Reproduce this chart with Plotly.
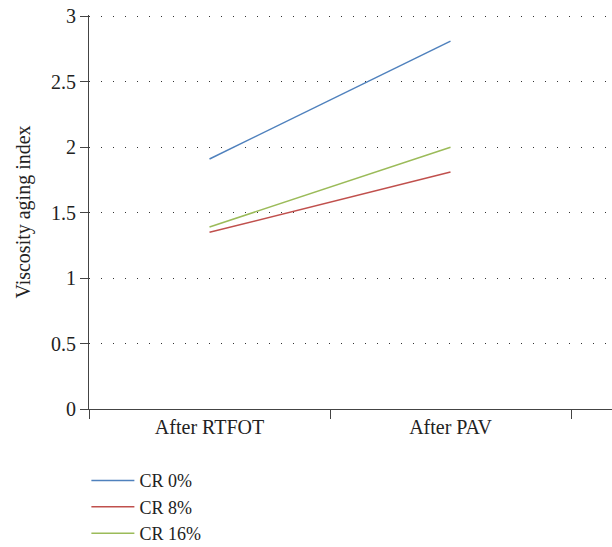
import plotly.graph_objects as go

categories = ["After RTFOT", "After PAV"]
series_names = ["CR 0%", "CR 8%", "CR 16%"]
cr0 = [1.91, 2.81]
cr8 = [1.35, 1.81]
cr16 = [1.39, 2.00]
y_ticks = [0, 0.5, 1, 1.5, 2, 2.5, 3]
y_tick_text = ["0", "0.5", "1", "1.5", "2", "2.5", "3"]
colors = ["#4F81BD", "#C0504D", "#9BBB59"]

FONT = "Liberation Serif, Times New Roman, serif"
FS = 20

fig = go.Figure()
for name, vals, c in zip(series_names, [cr0, cr8, cr16], colors):
    fig.add_trace(go.Scatter(x=categories, y=vals, mode="lines", name=name,
                             line=dict(color=c, width=1.5)))

fig.update_layout(
    width=612, height=547,
    margin=dict(l=89, r=0, t=15, b=138, autoexpand=False),
    paper_bgcolor="white", plot_bgcolor="white",
    font=dict(family=FONT, size=FS, color="#222"),
    showlegend=True,
    legend=dict(orientation="v", x=-0.005, xanchor="left", y=-0.135, yanchor="top",
                font=dict(family=FONT, size=18, color="#222"),
                tracegroupgap=0, itemwidth=43, bgcolor="rgba(0,0,0,0)"),
)
fig.update_xaxes(type="category", range=[-0.5, 1.67], tickson="boundaries",
                 ticks="outside", ticklen=9, tickcolor="#444", tickwidth=1,
                 showline=True, linecolor="#444", linewidth=1,
                 showgrid=False, zeroline=False, automargin=False,
                 tickfont=dict(family=FONT, size=FS, color="#222"))
fig.update_yaxes(range=[0, 3.01], tickvals=y_ticks, ticktext=y_tick_text,
                 ticks="outside", ticklen=8, tickcolor="#444", tickwidth=1,
                 showline=True, linecolor="#444", linewidth=1,
                 showgrid=True, gridcolor="#333", gridwidth=1, griddash="1px,11px",
                 zeroline=False, automargin=False,
                 title=dict(text="Viscosity aging index", font=dict(family=FONT, size=FS, color="#222"), standoff=15),
                 tickfont=dict(family=FONT, size=FS, color="#222"))

fig.write_html("out.html", config={"displayModeBar": False},
               post_script="document.body.style.margin='0';")
